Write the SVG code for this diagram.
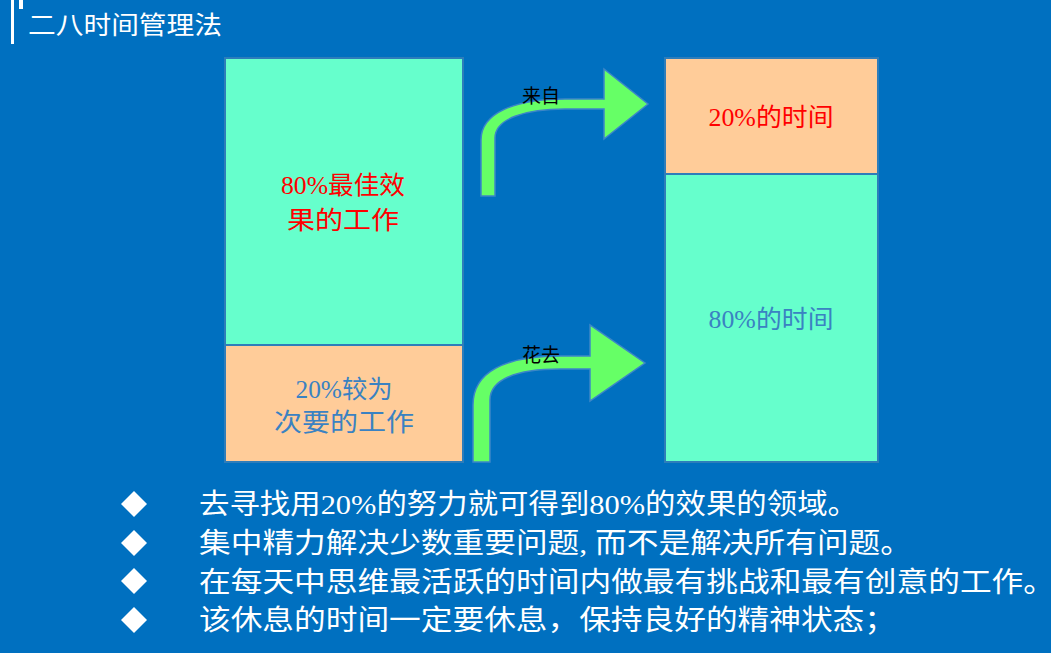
<svg xmlns="http://www.w3.org/2000/svg" width="1051" height="653" viewBox="0 0 1051 653">
<style>
.t{font-family:"Liberation Serif","Noto Sans CJK SC",serif;}
.box{stroke:#2E7DBA;stroke-width:2;}
.teal{fill:#66FFCC;}
.orange{fill:#FFCC99;}
.red{fill:#FF0000;font-size:25px;}
.blue{fill:#3A82C2;font-size:25px;}
.arrow{fill:#66FF66;stroke:#3C86C8;stroke-width:1.5;stroke-linejoin:miter;}
.lbl{fill:#000000;font-size:19px;}
.bul{fill:#FFFFFF;font-size:28px;}
</style>
<rect x="0" y="0" width="1051" height="653" fill="#0070C0"/>
<g id="title">
<rect x="11" y="0" width="3" height="44" fill="#FFFFFF"/>
<rect x="19" y="0" width="4" height="9" fill="#FFFFFF"/>
<text class="t" x="28" y="34" font-size="25" fill="#FFFFFF" textLength="194" lengthAdjust="spacingAndGlyphs">二八时间管理法</text>
</g>
<g id="left-top">
<rect class="box teal" x="225" y="58" width="238" height="287"/>
<text class="t red" x="343" y="194" text-anchor="middle" textLength="124" lengthAdjust="spacingAndGlyphs">80%最佳效</text>
<text class="t red" x="343" y="229" text-anchor="middle" textLength="112" lengthAdjust="spacingAndGlyphs">果的工作</text>
</g>
<g id="left-bottom">
<rect class="box orange" x="225" y="345" width="238" height="117"/>
<text class="t blue" x="344" y="398" text-anchor="middle" textLength="97" lengthAdjust="spacingAndGlyphs">20%较为</text>
<text class="t blue" x="344" y="431" text-anchor="middle" textLength="140" lengthAdjust="spacingAndGlyphs">次要的工作</text>
</g>
<g id="right-top">
<rect class="box orange" x="665" y="58" width="213" height="116"/>
<text class="t red" x="771" y="126" text-anchor="middle" textLength="125" lengthAdjust="spacingAndGlyphs">20%的时间</text>
</g>
<g id="right-bottom">
<rect class="box teal" x="665" y="174" width="213" height="288"/>
<text class="t blue" x="771" y="328" text-anchor="middle" textLength="125" lengthAdjust="spacingAndGlyphs">80%的时间</text>
</g>
<g id="connectors">
<path class="arrow" d="M481,196 L481,140 C481,113 515,99 565,99 L604,99 L604,69 L648,104 L604,139 L604,109 L565,109 C527,109 495,118 495,138 L495,196 Z"/>
<text class="t lbl" x="522" y="103" textLength="38" lengthAdjust="spacingAndGlyphs">来自</text>
<path class="arrow" d="M473,462 L473,405 C473,372 505,356 560,356 L590,356 L590,325 L645,363 L590,401 L590,369 L560,369 C515,369 490,380 490,400 L490,462 Z"/>
<text class="t lbl" x="522" y="362" textLength="38" lengthAdjust="spacingAndGlyphs">花去</text>
</g>
<g id="bullets">
<path d="M121,504 L134,491 L147,504 L134,517 Z" fill="#FFFFFF"/>
<path d="M121,543 L134,530 L147,543 L134,556 Z" fill="#FFFFFF"/>
<path d="M121,581 L134,568 L147,581 L134,594 Z" fill="#FFFFFF"/>
<path d="M121,620 L134,607 L147,620 L134,633 Z" fill="#FFFFFF"/>
<text class="t bul" x="199" y="514" textLength="659" lengthAdjust="spacingAndGlyphs">去寻找用20%的努力就可得到80%的效果的领域。</text>
<text class="t bul" x="199" y="553" textLength="713" lengthAdjust="spacingAndGlyphs">集中精力解决少数重要问题, 而不是解决所有问题。</text>
<text class="t bul" x="199" y="592" textLength="856" lengthAdjust="spacingAndGlyphs">在每天中思维最活跃的时间内做最有挑战和最有创意的工作。</text>
<text class="t bul" x="199" y="630" textLength="697" lengthAdjust="spacingAndGlyphs">该休息的时间一定要休息，保持良好的精神状态；</text>
</g>
</svg>
